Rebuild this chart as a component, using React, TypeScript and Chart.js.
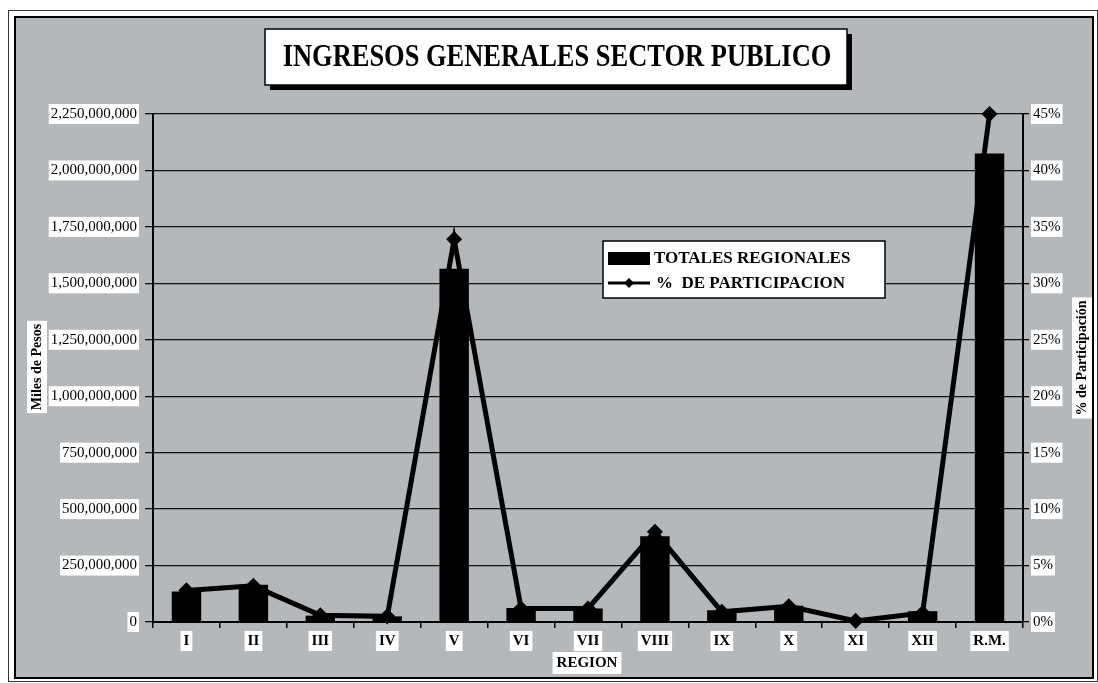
import React, { useEffect, useRef } from "react";
import { Chart, registerables } from "chart.js";

Chart.register(...registerables);

const regions: string[] = ["I", "II", "III", "IV", "V", "VI", "VII", "VIII", "IX", "X", "XI", "XII", "R.M."];
const totalesRegionales: number[] = [
  135000000, 165000000, 28000000, 25000000, 1565000000, 62000000, 60000000,
  380000000, 52000000, 72000000, 5000000, 48000000, 2075000000,
];
const participacion: number[] = [2.8, 3.2, 0.6, 0.5, 33.9, 1.2, 1.2, 8.0, 0.9, 1.4, 0.1, 0.8, 45.0];

const leftTicksMax = 2250000000;
const leftStep = 250000000;
const rightTicksMax = 45;
const rightStep = 5;

const TITLE = "INGRESOS GENERALES SECTOR PUBLICO";
const LEFT_TITLE = "Miles de Pesos";
const RIGHT_TITLE = "% de Participación";
const X_TITLE = "REGION";
const LEGEND_BAR = "TOTALES REGIONALES";
const LEGEND_LINE = "%  DE PARTICIPACION";

const SERIF = "'Liberation Serif', 'Times New Roman', serif";
const BG = "#b4b8bb";

const decorPlugin = {
  id: "decor",
  beforeDraw(chart: any) {
    const ctx = chart.ctx;
    ctx.save();
    ctx.fillStyle = "#ffffff";
    ctx.fillRect(0, 0, chart.width, chart.height);
    ctx.fillStyle = BG;
    ctx.fillRect(15, 17, 1078, 661);
    ctx.strokeStyle = "#333";
    ctx.lineWidth = 1;
    ctx.strokeRect(8.5, 10.5, 1089, 671);
    ctx.strokeStyle = "#000";
    ctx.lineWidth = 2;
    ctx.strokeRect(15, 17, 1078, 661);
    // title box with shadow
    ctx.fillStyle = "#000";
    ctx.fillRect(270, 34, 582, 56);
    ctx.fillStyle = "#fff";
    ctx.fillRect(265, 29, 582, 56);
    ctx.strokeStyle = "#000";
    ctx.lineWidth = 1.5;
    ctx.strokeRect(265, 29, 582, 56);
    ctx.fillStyle = "#000";
    ctx.font = `bold 27px ${SERIF}`;
    ctx.textAlign = "center";
    ctx.textBaseline = "middle";
    ctx.save();
    ctx.translate(557, 58);
    ctx.scale(0.98, 1.15);
    ctx.fillText(TITLE, 0, 0);
    ctx.restore();
    ctx.restore();
  },
  afterDraw(chart: any) {
    const ctx = chart.ctx;
    ctx.save();
    ctx.textAlign = "center";
    ctx.textBaseline = "middle";
    ctx.font = `bold 14px ${SERIF}`;
    const lw = ctx.measureText(LEFT_TITLE).width;
    ctx.save();
    ctx.translate(37, 367);
    ctx.rotate(-Math.PI / 2);
    ctx.fillStyle = "#fff";
    ctx.fillRect(-lw / 2 - 3, -10, lw + 6, 20);
    ctx.fillStyle = "#000";
    ctx.fillText(LEFT_TITLE, 0, 0);
    ctx.restore();
    const rw = ctx.measureText(RIGHT_TITLE).width;
    ctx.save();
    ctx.translate(1082, 358);
    ctx.rotate(-Math.PI / 2);
    ctx.fillStyle = "#fff";
    ctx.fillRect(-rw / 2 - 3, -10, rw + 6, 20);
    ctx.fillStyle = "#000";
    ctx.fillText(RIGHT_TITLE, 0, 0);
    ctx.restore();
    ctx.font = `bold 15px ${SERIF}`;
    const xw = ctx.measureText(X_TITLE).width;
    ctx.fillStyle = "#fff";
    ctx.fillRect(587 - xw / 2 - 4, 652, xw + 8, 22);
    ctx.fillStyle = "#000";
    ctx.fillText(X_TITLE, 587, 663);

    // legend
    const lx = 603, ly = 241, lwid = 282, lh = 57;
    ctx.fillStyle = "#fff";
    ctx.fillRect(lx, ly, lwid, lh);
    ctx.strokeStyle = "#000";
    ctx.lineWidth = 1.5;
    ctx.strokeRect(lx, ly, lwid, lh);
    const barDs = chart.data.datasets[1];
    const lineDs = chart.data.datasets[0];
    ctx.fillStyle = barDs.backgroundColor;
    ctx.fillRect(608, 252, 42, 13);
    ctx.strokeStyle = lineDs.borderColor;
    ctx.lineWidth = 3;
    ctx.beginPath();
    ctx.moveTo(608, 283);
    ctx.lineTo(650, 283);
    ctx.stroke();
    ctx.fillStyle = "#000";
    ctx.beginPath();
    ctx.moveTo(629, 278);
    ctx.lineTo(634, 283);
    ctx.lineTo(629, 288);
    ctx.lineTo(624, 283);
    ctx.closePath();
    ctx.fill();
    ctx.font = `bold 17px ${SERIF}`;
    ctx.textAlign = "left";
    ctx.fillText(barDs.label, 654, 259);
    ctx.fillText(lineDs.label, 656, 284);
    ctx.restore();
  },
};

export default function App() {
  const ref = useRef<HTMLCanvasElement | null>(null);
  useEffect(() => {
    if (!ref.current) return;
    const chart = new Chart(ref.current, {
      type: "bar",
      data: {
        labels: regions,
        datasets: [
          {
            type: "line",
            label: LEGEND_LINE,
            data: participacion,
            yAxisID: "y1",
            borderColor: "#000",
            backgroundColor: "#000",
            borderWidth: 5,
            pointStyle: "rectRot",
            pointRadius: 4.5,
            pointBackgroundColor: "#000",
            pointBorderColor: "#000",
            tension: 0,
            clip: false,
            order: 0,
          } as any,
          {
            type: "bar",
            label: LEGEND_BAR,
            data: totalesRegionales,
            yAxisID: "y",
            backgroundColor: "#000",
            barPercentage: 0.44,
            categoryPercentage: 1,
            order: 1,
          } as any,
        ],
      },
      options: {
        responsive: false,
        animation: false,
        layout: { padding: { left: 0, right: 0, top: 114, bottom: 0 } },
        plugins: {
          legend: { display: false },
          title: { display: false },
          tooltip: { enabled: false },
        },
        scales: {
          x: {
            offset: true,
            afterFit: (s: any) => { s.height = 61; },
            grid: { display: true, drawOnChartArea: false, drawTicks: true, tickLength: 6, color: "#000", lineWidth: 1.5, offset: true },
            border: { display: true, color: "#000", width: 2 },
            ticks: {
              color: "#000",
              font: { family: SERIF, size: 15, weight: "bold" },
              padding: 4,
              showLabelBackdrop: true,
              backdropColor: "#fff",
              backdropPadding: { top: 1, bottom: 1, left: 3, right: 3 },
            } as any,
          },
          y: {
            position: "left",
            min: 0,
            max: leftTicksMax,
            afterFit: (s: any) => { s.width = 153; },
            grid: { color: "#111", lineWidth: 1.3, tickLength: 8 },
            border: { display: true, color: "#000", width: 2 },
            ticks: {
              stepSize: leftStep,
              color: "#000",
              font: { family: SERIF, size: 15 },
              padding: 8,
              callback: (v: any) => Number(v).toLocaleString("en-US"),
              showLabelBackdrop: true,
              backdropColor: "#fff",
              backdropPadding: { top: 1, bottom: 1, left: 2, right: 2 },
            } as any,
          },
          y1: {
            position: "right",
            min: 0,
            max: rightTicksMax,
            afterFit: (s: any) => { s.width = 75; },
            grid: { drawOnChartArea: false, color: "#000", lineWidth: 1.3, tickLength: 6 },
            border: { display: true, color: "#000", width: 2 },
            ticks: {
              stepSize: rightStep,
              color: "#000",
              font: { family: SERIF, size: 15 },
              padding: 4,
              callback: (v: any) => `${v}%`,
              showLabelBackdrop: true,
              backdropColor: "#fff",
              backdropPadding: { top: 1, bottom: 1, left: 2, right: 2 },
            } as any,
          },
        },
      },
      plugins: [decorPlugin],
    });
    return () => chart.destroy();
  }, []);
  return (
    <div style={{ position: "fixed", left: 0, top: 0, width: 1098, height: 683 }}>
      <canvas ref={ref} width={1098} height={683} style={{ width: 1098, height: 683, display: "block" }} />
    </div>
  );
}
